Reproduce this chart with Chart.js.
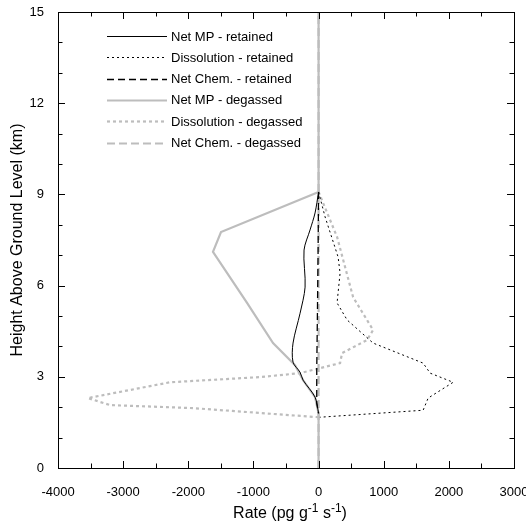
<!DOCTYPE html>
<html lang="en">
<head>
  <meta charset="UTF-8">
  <title>Rate profiles</title>
  <script src="https://cdn.jsdelivr.net/npm/chart.js"></script>
  <style>
    body { margin: 0; background: #fff; }
    #box { width: 526px; height: 524px; }
  </style>
</head>
<body>
  <div id="box">
    <canvas id="myChart" width="526" height="524"></canvas>
  </div>

<script>
// series values (rate in pg/g/s, height in km)
const mpRetRate = [0, -54, -131, -223, -207, -284, -392, -392, -284, -238, -54, 0];
const mpRetHeight = [9.08, 8.39, 7.83, 7.17, 5.95, 5.09, 4.11, 3.48, 3.15, 2.89, 2.33, 1.80];

const dissRetRate = [0, 100, 300, 330, 284, 438, 837, 1605, 1713, 2066, 1682, 1605, 20];
const dissRetHeight = [9.08, 8.26, 6.94, 6.41, 5.43, 4.87, 4.11, 3.45, 3.12, 2.82, 2.30, 1.90, 1.67];

const chemRetRate = [0, -8, -18, -28, -28, 0];
const chemRetHeight = [9.08, 7.0, 5.0, 3.2, 2.13, 1.80];

const mpDegRate = [0, 0, -54, -238, -361, -699, -1098, -1621, -1498, 0, 0];
const mpDegHeight = [0, 1.80, 2.33, 2.89, 3.38, 4.11, 5.43, 7.11, 7.76, 9.08, 15];

const dissDegRate = [0, 284, 407, 530, 837, 745, 361, 330, -284, -899, -2281, -3541, -3203, -1928, 0];
const dissDegHeight = [9.08, 7.60, 6.61, 5.62, 4.54, 4.21, 3.78, 3.45, 3.12, 2.99, 2.82, 2.30, 2.07, 1.97, 1.67];

const chemDegRate = [0, 0];
const chemDegHeight = [0, 15];

const xTicks = [-4000, -3000, -2000, -1000, 0, 1000, 2000, 3000];
const yTicks = [0, 3, 6, 9, 12, 15];

const nomes = [
  'Net MP - retained',
  'Dissolution - retained',
  'Net Chem. - retained',
  'Net MP - degassed',
  'Dissolution - degassed',
  'Net Chem. - degassed'
];

const fonte = "'Liberation Sans', Arial, sans-serif";
const cinza = '#bdbdbd';

function pontos(xs, ys) {
  return xs.map(function (v, i) { return { x: v, y: ys[i] }; });
}

function serie(nome, xs, ys, cor, largura, traco, tensao) {
  return {
    label: nome,
    data: pontos(xs, ys),
    showLine: true,
    borderColor: cor,
    backgroundColor: cor,
    borderWidth: largura,
    borderDash: traco,
    pointRadius: 0,
    tension: tensao || 0,
    fill: false
  };
}

// inward ticks + frame on all four sides
const moldura = {
  id: 'moldura',
  afterDraw: function (chart) {
    const ctx = chart.ctx;
    const a = chart.chartArea;
    const sx = chart.scales.x;
    const sy = chart.scales.y;
    ctx.save();
    ctx.strokeStyle = '#000';
    ctx.lineWidth = 1;
    ctx.strokeRect(a.left + 0.5, a.top + 0.5, a.right - a.left, a.bottom - a.top);
    ctx.beginPath();
    for (let v = -4000; v <= 3000; v += 500) {
      const px = Math.round(sx.getPixelForValue(v)) + 0.5;
      const len = v % 1000 === 0 ? 7 : 4.5;
      ctx.moveTo(px, a.bottom); ctx.lineTo(px, a.bottom - len);
      ctx.moveTo(px, a.top); ctx.lineTo(px, a.top + len);
    }
    for (let v = 0; v <= 15; v += 1) {
      const py = Math.round(sy.getPixelForValue(v)) + 0.5;
      const len = v % 3 === 0 ? 7 : 4.5;
      ctx.moveTo(a.left, py); ctx.lineTo(a.left + len, py);
      ctx.moveTo(a.right, py); ctx.lineTo(a.right - len, py);
    }
    ctx.stroke();

    // axis titles
    ctx.fillStyle = '#000';
    ctx.font = '16px ' + fonte;
    ctx.textBaseline = 'middle';
    ctx.textAlign = 'center';
    ctx.save();
    ctx.translate(18, (a.top + a.bottom) / 2);
    ctx.rotate(-Math.PI / 2);
    ctx.fillText('Height Above Ground Level (km)', 0, 0);
    ctx.restore();

    const partes = [['Rate (pg g', 0], ['-1', 1], [' s', 0], ['-1', 1], [')', 0]];
    let total = 0;
    partes.forEach(function (p) {
      ctx.font = (p[1] ? '12px ' : '16px ') + fonte;
      total += ctx.measureText(p[0]).width;
    });
    let cx = (a.left + a.right) / 2 + 4 - total / 2;
    ctx.textAlign = 'left';
    ctx.textBaseline = 'alphabetic';
    partes.forEach(function (p) {
      ctx.font = (p[1] ? '12px ' : '16px ') + fonte;
      ctx.fillText(p[0], cx, p[1] ? 512 : 518);
      cx += ctx.measureText(p[0]).width;
    });

    // legend inside the plot
    ctx.font = '13px ' + fonte;
    ctx.textBaseline = 'middle';
    chart.data.datasets.forEach(function (ds, i) {
      const ly = 36 + i * 21.3;
      ctx.save();
      ctx.strokeStyle = ds.borderColor;
      ctx.lineWidth = ds.borderWidth;
      ctx.setLineDash(ds.borderDash || []);
      ctx.beginPath();
      ctx.moveTo(107, Math.round(ly) + 0.5);
      ctx.lineTo(167, Math.round(ly) + 0.5);
      ctx.stroke();
      ctx.restore();
      ctx.fillText(ds.label, 171, ly + 1);
    });
    ctx.restore();
  }
};

const ctx = document.getElementById('myChart');
new Chart(ctx, {
  type: 'scatter',
  data: {
    datasets: [
      serie(nomes[0], mpRetRate, mpRetHeight, '#000', 1, [], 0.3),
      serie(nomes[1], dissRetRate, dissRetHeight, '#000', 1, [2, 3]),
      serie(nomes[2], chemRetRate, chemRetHeight, '#000', 1.3, [7, 4]),
      serie(nomes[3], mpDegRate, mpDegHeight, cinza, 2.2, []),
      serie(nomes[4], dissDegRate, dissDegHeight, cinza, 2.2, [3, 3]),
      serie(nomes[5], chemDegRate, chemDegHeight, cinza, 2.2, [8, 4])
    ]
  },
  options: {
    responsive: false,
    animation: false,
    layout: { padding: { top: 12, right: 12, left: 0, bottom: 0 } },
    plugins: {
      legend: { display: false },
      tooltip: { enabled: false }
    },
    scales: {
      x: {
        type: 'linear',
        min: -4000,
        max: 3000,
        afterBuildTicks: function (s) { s.ticks = xTicks.map(function (v) { return { value: v }; }); },
        afterFit: function (s) { s.height = 56; s.paddingLeft = 0; s.paddingRight = 0; },
        grid: { display: false },
        border: { display: false },
        ticks: {
          color: '#000',
          padding: 9,
          maxRotation: 0,
          font: { family: fonte, size: 13 },
          callback: function (v) { return String(v); }
        }
      },
      y: {
        type: 'linear',
        min: 0,
        max: 15,
        afterBuildTicks: function (s) { s.ticks = yTicks.map(function (v) { return { value: v }; }); },
        afterFit: function (s) { s.width = 58; s.paddingTop = 0; s.paddingBottom = 0; },
        grid: { display: false },
        border: { display: false },
        ticks: {
          color: '#000',
          padding: 6,
          font: { family: fonte, size: 13 },
          callback: function (v) { return String(v); }
        }
      }
    }
  },
  plugins: [moldura]
});
</script>
</body>
</html>
